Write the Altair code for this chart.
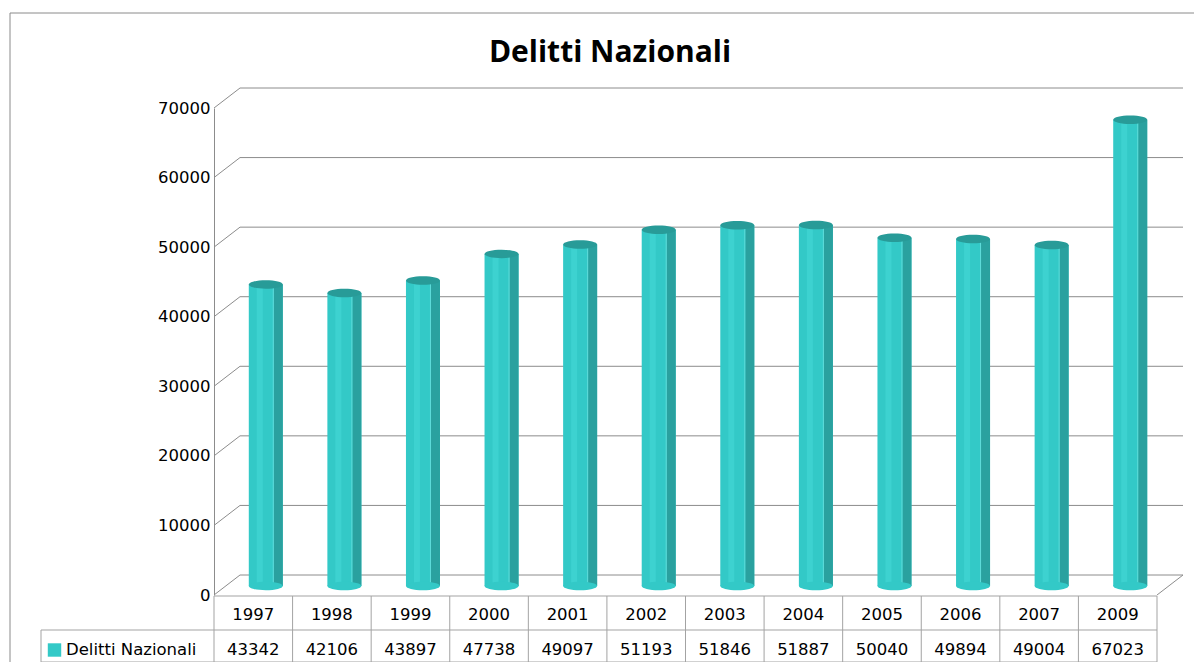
import altair as alt
import pandas as pd

# ---- data ----
years = ["1997", "1998", "1999", "2000", "2001", "2002", "2003", "2004",
         "2005", "2006", "2007", "2009"]
values = [43342, 42106, 43897, 47738, 49097, 51193, 51846, 51887,
          50040, 49894, 49004, 67023]
y_ticks = [0, 10000, 20000, 30000, 40000, 50000, 60000, 70000]
series_name = "Delitti Nazionali"
chart_title = "Delitti Nazionali"

# ---- style / layout ----
W, H = 943, 487
DX, DY = 26, -20            # depth of the 3D wall
BAR_W, BAR_DX, BAR_DY = 34, 12.5, -9
FONT = "DejaVu Sans"
FS = 16.5
GRID = "#8c8c8c"
TBL = "#a3a3a3"
TEAL = "#33c9c7"
TEAL_LIGHT = "#3dd2d0"
TEAL_DARK = "#2aa19f"
TEAL_TOP = "#289b98"
ELLIPSE = "M-1,0A1,0.25,0,1,0,1,0A1,0.25,0,1,0,-1,0Z"

df = pd.DataFrame({"year": years, "value": values})
tick_df = pd.DataFrame({"v": y_ticks})
one = pd.DataFrame({"k": [0]})

xs = alt.Scale(domain=years, paddingInner=0, paddingOuter=0)
ys = alt.Scale(domain=[0, 70000], nice=False, zero=True)
yaxis = alt.Axis(values=y_ticks, format="d", grid=False, ticks=False,
                 domain=True, domainColor=GRID, domainWidth=1,
                 labelFont=FONT, labelFontSize=FS, labelColor="black",
                 labelPadding=4, title=None)
X = alt.X("year:N", scale=xs, axis=None)


def Yf(field):
    return alt.Y(field, type="quantitative", scale=ys, axis=yaxis)


border = alt.Chart(one).mark_rect(fill="transparent", stroke="#8a8a8a", strokeWidth=1).encode(
    x=alt.value(-204), x2=alt.value(1400), y=alt.value(-95), y2=alt.value(1000))

grid = alt.Chart(tick_df).mark_rule(color=GRID, strokeWidth=1, yOffset=DY).encode(
    y=Yf("v"), x=alt.value(DX), x2=alt.value(W + DX))

diag = alt.Chart(tick_df).mark_rule(color=GRID, strokeWidth=1, y2Offset=DY).encode(
    y=Yf("v"), y2=alt.Y2("v"), x=alt.value(0), x2=alt.value(DX))

floor_diag = alt.Chart(one).mark_rule(color=GRID, strokeWidth=1).encode(
    x=alt.value(W), x2=alt.value(W + DX), y=alt.value(H), y2=alt.value(H + DY))

body = alt.Chart(df).mark_bar(width=BAR_W, xOffset=BAR_DX, yOffset=BAR_DY,
                              y2Offset=BAR_DY, color=TEAL).encode(
    x=X, y=Yf("value"), y2=alt.datum(0))

hi = alt.Chart(df).mark_bar(width=6, xOffset=BAR_DX - 6, yOffset=BAR_DY,
                            y2Offset=BAR_DY, color=TEAL_LIGHT).encode(
    x=X, y=Yf("value"), y2=alt.datum(0))

side = alt.Chart(df).mark_bar(width=9, xOffset=BAR_DX + BAR_W / 2 - 4.5, yOffset=BAR_DY,
                              y2Offset=BAR_DY, color=TEAL_DARK).encode(
    x=X, y=Yf("value"), y2=alt.datum(0))

edge = alt.Chart(df).mark_bar(width=1, xOffset=BAR_DX + BAR_W / 2 - 9.5, yOffset=BAR_DY,
                              y2Offset=BAR_DY, color="#5fdcda").encode(
    x=X, y=Yf("value"), y2=alt.datum(0))

bottom = alt.Chart(df).mark_point(shape=ELLIPSE, size=BAR_W ** 2, filled=True, opacity=1,
                                  color=TEAL, xOffset=BAR_DX, yOffset=BAR_DY).encode(
    x=X, y=alt.datum(0))

top = alt.Chart(df).mark_point(shape=ELLIPSE, size=BAR_W ** 2, filled=True, opacity=1,
                               color=TEAL_TOP, xOffset=BAR_DX, yOffset=BAR_DY).encode(
    x=X, y=Yf("value"))

# ---- data table ----
col_lines = alt.Chart(df).mark_rule(color=TBL, strokeWidth=1).encode(
    x=alt.X("year:N", scale=xs, axis=None, bandPosition=0),
    y=alt.value(488), y2=alt.value(554))
last_col = alt.Chart(one).mark_rule(color=TBL).encode(
    x=alt.value(W), y=alt.value(488), y2=alt.value(554))
left_col = alt.Chart(one).mark_rule(color=TBL).encode(
    x=alt.value(-173), y=alt.value(522), y2=alt.value(554))
row_top = alt.Chart(one).mark_rule(color=TBL).encode(
    x=alt.value(0), x2=alt.value(W), y=alt.value(488))
row_mid = alt.Chart(one).mark_rule(color=TBL).encode(
    x=alt.value(-173), x2=alt.value(W), y=alt.value(522))
row_bot = alt.Chart(one).mark_rule(color=TBL).encode(
    x=alt.value(-173), x2=alt.value(W), y=alt.value(554))

yr_text = alt.Chart(df).mark_text(font=FONT, fontSize=FS, color="black",
                                  baseline="alphabetic").encode(
    x=X, y=alt.value(512), text="year:N")
val_text = alt.Chart(df).mark_text(font=FONT, fontSize=FS, color="black",
                                   baseline="alphabetic").encode(
    x=X, y=alt.value(547), text=alt.Text("value:Q", format="d"))

leg_sq = alt.Chart(one).mark_square(size=180, filled=True, opacity=1, color=TEAL).encode(
    x=alt.value(-159.5), y=alt.value(542))
leg_txt = alt.Chart(pd.DataFrame({"t": [series_name]})).mark_text(
    font=FONT, fontSize=FS, color="black", align="left", baseline="alphabetic").encode(
    x=alt.value(-148), y=alt.value(547), text="t:N")

title = alt.Chart(pd.DataFrame({"t": [chart_title]})).mark_text(
    font="Open Sans", fontSize=30, fontWeight="bold", color="black",
    align="center", baseline="alphabetic").encode(
    x=alt.value(396), y=alt.value(-46), text="t:N")

chart = alt.layer(
    border, grid, diag, floor_diag, body, hi, side, edge, bottom, top,
    col_lines, last_col, left_col, row_top, row_mid, row_bot,
    yr_text, val_text, leg_sq, leg_txt, title
).properties(
    width=W, height=H, autosize="none",
    padding={"left": 206, "top": 100, "right": 37, "bottom": 67},
    background="white"
).configure_view(strokeWidth=0)

chart.save("out.html", embed_options={"renderer": "svg", "actions": False})
